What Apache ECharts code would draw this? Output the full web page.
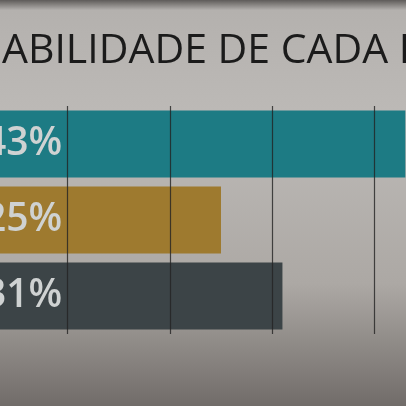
<!DOCTYPE html>
<html>
<head>
<meta charset="utf-8">
<script src="https://cdn.jsdelivr.net/npm/echarts@6/dist/echarts.min.js"></script>
<style>
  html, body { margin: 0; padding: 0; overflow: hidden; width: 406px; height: 406px; position: relative; background: #6e6a68; }
  /* o gráfico é mais largo que a janela: o zero do eixo fica fora, à esquerda */
  #chart { position: absolute; left: -35px; top: 0; width: 512px; height: 406px; }
</style>
</head>
<body>
<div id="chart"></div>
<script>
  // dados
  const categorias = ['A', 'B', 'C'];
  const valores = [43, 25, 31];
  const cores = ['#1d7b84', '#9e7a2f', '#3c4447'];
  const titulo = 'ABILIDADE DE CADA R';

  const chart = echarts.init(document.getElementById('chart'));

  const option = {
    backgroundColor: new echarts.graphic.LinearGradient(0, 0, 0, 1, [
      { offset: 0, color: '#5e5b59' },
      { offset: 0.025, color: '#b4b1ae' },
      { offset: 0.3, color: '#bdbab7' },
      { offset: 0.7, color: '#aca8a4' },
      { offset: 1, color: '#716c69' }
    ]),
    title: {
      text: titulo,
      left: 32,
      top: 26,
      textStyle: {
        fontFamily: 'Open Sans',
        fontWeight: 'normal',
        fontSize: 41,
        color: '#1b1b1b'
      }
    },
    grid: {
      left: 0,
      right: 0,
      top: 106,
      bottom: 72
    },
    xAxis: {
      type: 'value',
      min: 0,
      max: 50,
      interval: 10,
      z: 5,
      axisLabel: { show: false },
      axisLine: { show: false },
      axisTick: { show: false },
      splitLine: {
        lineStyle: { color: 'rgba(35,35,35,0.8)', width: 1.2 }
      }
    },
    yAxis: {
      type: 'category',
      inverse: true,
      data: categorias,
      axisLabel: { show: false },
      axisLine: { show: false },
      axisTick: { show: false }
    },
    series: [{
      type: 'bar',
      data: valores.map((v, i) => ({ value: v, itemStyle: { color: cores[i] } })),
      barWidth: 67,
      label: {
        show: true,
        position: 'insideLeft',
        distance: 19,
        formatter: '{c}%',
        fontFamily: 'Open Sans',
        fontWeight: 600,
        fontSize: 39,
        color: '#cfd2d2'
      }
    }]
  };

  chart.setOption(option);
</script>
</body>
</html>
